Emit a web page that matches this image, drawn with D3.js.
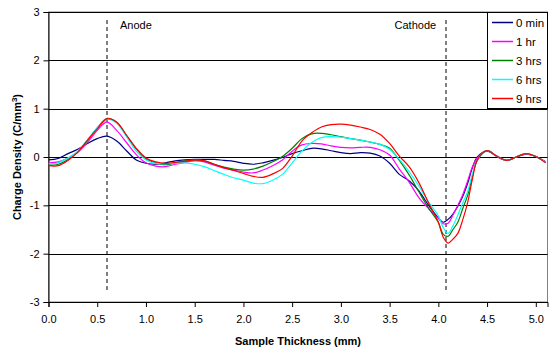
<!DOCTYPE html>
<html>
<head>
<meta charset="utf-8">
<script src="https://cdn.jsdelivr.net/npm/d3@7"></script>
<style>
  html, body { margin: 0; padding: 0; background: #fff; }
  svg text { font-family: "Liberation Sans", Arial, sans-serif; }
</style>
</head>
<body>
<div id="chart"></div>
<script>
// sample positions (mm)
const thickness = [
  0.0, 0.1, 0.2, 0.3, 0.4, 0.5, 0.6, 0.7, 0.8, 0.9,
  1.0, 1.1, 1.2, 1.3, 1.4, 1.5, 1.6, 1.7, 1.8, 1.9,
  2.0, 2.1, 2.2, 2.3, 2.4, 2.5, 2.6, 2.7, 2.8, 2.9,
  3.0, 3.1, 3.2, 3.3, 3.4, 3.5, 3.6, 3.7, 3.8, 3.9,
  4.0, 4.05, 4.1, 4.15, 4.2, 4.25, 4.3, 4.35, 4.4,
  4.5, 4.6, 4.7, 4.8, 4.9, 5.0, 5.1
];

const seriesNames = ["0 min", "1 hr", "3 hrs", "6 hrs", "9 hrs"];
const seriesColors = ["#000080", "#ff00ff", "#008000", "#00ffff", "#ff0000"];

const min0 = [
  -0.06, -0.03, 0.07, 0.16, 0.28, 0.38, 0.43, 0.33, 0.13, -0.06,
  -0.13, -0.15, -0.12, -0.08, -0.06, -0.05, -0.05, -0.05, -0.07, -0.09,
  -0.13, -0.15, -0.12, -0.07, -0.01, 0.07, 0.13, 0.18, 0.17, 0.13,
  0.09, 0.07, 0.09, 0.08, 0.02, -0.13, -0.36, -0.49, -0.70, -1.00,
  -1.26, -1.35, -1.29, -1.18, -1.02, -0.82, -0.55, -0.22, 0.00,
  0.12, 0.01, -0.07, 0.00, 0.06, 0.01, -0.10
];
const hr1 = [
  -0.12, -0.10, -0.02, 0.10, 0.30, 0.55, 0.72, 0.55, 0.30, 0.05,
  -0.12, -0.19, -0.20, -0.15, -0.11, -0.08, -0.10, -0.17, -0.23, -0.27,
  -0.31, -0.33, -0.27, -0.18, -0.06, 0.12, 0.25, 0.28, 0.27, 0.23,
  0.20, 0.19, 0.20, 0.20, 0.15, 0.04, -0.25, -0.52, -0.84, -1.07,
  -1.27, -1.38, -1.37, -1.20, -1.00, -0.78, -0.50, -0.20, -0.02,
  0.13, 0.01, -0.07, 0.00, 0.06, 0.01, -0.10
];
const hrs3 = [
  -0.17, -0.15, -0.05, 0.10, 0.34, 0.60, 0.80, 0.72, 0.45, 0.17,
  -0.04, -0.12, -0.16, -0.12, -0.08, -0.06, -0.08, -0.15, -0.21, -0.25,
  -0.27, -0.25, -0.19, -0.10, 0.01, 0.18, 0.38, 0.48, 0.49, 0.46,
  0.42, 0.38, 0.35, 0.31, 0.26, 0.18, -0.07, -0.37, -0.72, -1.06,
  -1.35, -1.60, -1.64, -1.50, -1.35, -1.07, -0.80, -0.40, -0.07,
  0.13, 0.02, -0.07, 0.00, 0.07, 0.01, -0.11
];
const hrs6 = [
  -0.14, -0.12, -0.02, 0.12, 0.36, 0.60, 0.78, 0.70, 0.42, 0.12,
  -0.06, -0.13, -0.14, -0.13, -0.12, -0.15, -0.20, -0.28, -0.36, -0.43,
  -0.48, -0.54, -0.55, -0.48, -0.36, -0.12, 0.12, 0.30, 0.40, 0.42,
  0.41, 0.38, 0.35, 0.31, 0.26, 0.16, -0.05, -0.30, -0.60, -0.93,
  -1.22, -1.46, -1.58, -1.42, -1.20, -0.95, -0.72, -0.35, -0.06,
  0.13, 0.02, -0.07, 0.00, 0.07, 0.01, -0.11
];
const hrs9 = [
  -0.18, -0.18, -0.07, 0.10, 0.35, 0.58, 0.79, 0.72, 0.45, 0.18,
  -0.02, -0.10, -0.13, -0.11, -0.09, -0.06, -0.08, -0.15, -0.22, -0.28,
  -0.34, -0.40, -0.42, -0.35, -0.24, 0.02, 0.33, 0.50, 0.62, 0.67,
  0.68, 0.66, 0.62, 0.57, 0.47, 0.28, 0.02, -0.20, -0.53, -0.95,
  -1.35, -1.66, -1.78, -1.70, -1.58, -1.30, -0.95, -0.45, -0.06,
  0.13, 0.02, -0.07, 0.00, 0.07, 0.01, -0.12
];
const seriesValues = [min0, hr1, hrs3, hrs6, hrs9];

const xTicks = [0, 0.5, 1, 1.5, 2, 2.5, 3, 3.5, 4, 4.5, 5];
const yTicks = [-3, -2, -1, 0, 1, 2, 3];
const markers = [
  { label: "Anode", x: 0.6 },
  { label: "Cathode", x: 4.07 }
];

const width = 549, height = 354;
const margin = { top: 12, right: 1.5, bottom: 52, left: 48.5 };
const innerW = width - margin.left - margin.right;
const innerH = height - margin.top - margin.bottom;

const svg = d3.select("#chart").append("svg")
  .attr("width", width)
  .attr("height", height);

const g = svg.append("g")
  .attr("transform", `translate(${margin.left},${margin.top})`);

const x = d3.scaleLinear().domain([0, 5.12]).range([0, innerW]);
const y = d3.scaleLinear().domain([-3, 3]).range([innerH, 0]);

// plot area border
g.append("rect")
  .attr("width", innerW)
  .attr("height", innerH)
  .attr("fill", "none")
  .attr("stroke", "#808080");

// horizontal gridlines
g.selectAll(".grid")
  .data(yTicks.filter(d => d > -3))
  .enter()
  .append("line")
  .attr("x1", 0)
  .attr("x2", innerW)
  .attr("y1", d => Math.round(y(d)) + 0.5)
  .attr("y2", d => Math.round(y(d)) + 0.5)
  .attr("stroke", "#000")
  .attr("stroke-width", 1);

// axes (plain hyphen for negatives, like the original)
const yAxis = g.append("g")
  .call(d3.axisLeft(y).tickValues(yTicks).tickSize(5).tickPadding(4).tickFormat(d => String(d)));
const xAxis = g.append("g")
  .attr("transform", `translate(0,${innerH})`)
  .call(d3.axisBottom(x).tickValues(xTicks).tickSize(5).tickPadding(8).tickFormat(d => d.toFixed(1)));

[xAxis, yAxis].forEach(ax => {
  ax.select(".domain").attr("stroke", "#000");
  ax.selectAll("line").attr("stroke", "#000");
  ax.selectAll("text")
    .style("font-size", "11px")
    .style("font-family", "'Liberation Sans', Arial, sans-serif")
    .attr("fill", "#000");
});

// dashed electrode markers
g.selectAll(".marker")
  .data(markers)
  .enter()
  .append("line")
  .attr("x1", d => Math.round(x(d.x)) + 0.5)
  .attr("x2", d => Math.round(x(d.x)) + 0.5)
  .attr("y1", 8)
  .attr("y2", 278)
  .attr("stroke", "#000")
  .attr("stroke-dasharray", "4,3");

g.selectAll(".marker-label")
  .data(markers)
  .enter()
  .append("text")
  .attr("x", d => d.label === "Anode" ? x(d.x) + 13 : x(d.x) - 9)
  .attr("y", 17)
  .attr("text-anchor", d => d.label === "Anode" ? "start" : "end")
  .style("font-size", "11px")
  .text(d => d.label);

// series lines
const line = d3.line()
  .x((d, i) => x(thickness[i]))
  .y(d => y(d))
  .curve(d3.curveCatmullRom.alpha(0.5));

svg.append("clipPath").attr("id", "clip")
  .append("rect").attr("width", innerW).attr("height", innerH);

g.append("g")
  .attr("clip-path", "url(#clip)")
  .selectAll(".series")
  .data(seriesValues)
  .enter()
  .append("path")
  .attr("fill", "none")
  .attr("stroke", (d, i) => seriesColors[i])
  .attr("stroke-width", 1.2)
  .attr("d", line);

// legend
const legend = svg.append("g").attr("transform", "translate(487,12)");
legend.append("rect")
  .attr("x", 0.5)
  .attr("y", 0.5)
  .attr("width", 60)
  .attr("height", 96)
  .attr("fill", "#fff")
  .attr("stroke", "#000");

const items = legend.selectAll(".item")
  .data(seriesNames)
  .enter()
  .append("g")
  .attr("transform", (d, i) => `translate(0,${10.5 + i * 19})`);

items.append("line")
  .attr("x1", 5)
  .attr("x2", 26)
  .attr("stroke", (d, i) => seriesColors[i])
  .attr("stroke-width", 1.5);

items.append("text")
  .attr("x", 29)
  .attr("y", 4)
  .style("font-size", "11.5px")
  .text(d => d);

// axis titles
svg.append("text")
  .attr("transform", `translate(21,${margin.top + innerH / 2}) rotate(-90)`)
  .attr("text-anchor", "middle")
  .style("font-size", "11px")
  .style("font-weight", "bold")
  .html('Charge Density (C/mm<tspan dy="-4" font-size="8px">3</tspan><tspan dy="4">)</tspan>');

svg.append("text")
  .attr("x", margin.left + innerW / 2)
  .attr("y", 345)
  .attr("text-anchor", "middle")
  .style("font-size", "11px")
  .style("font-weight", "bold")
  .text("Sample Thickness (mm)");
</script>
</body>
</html>
